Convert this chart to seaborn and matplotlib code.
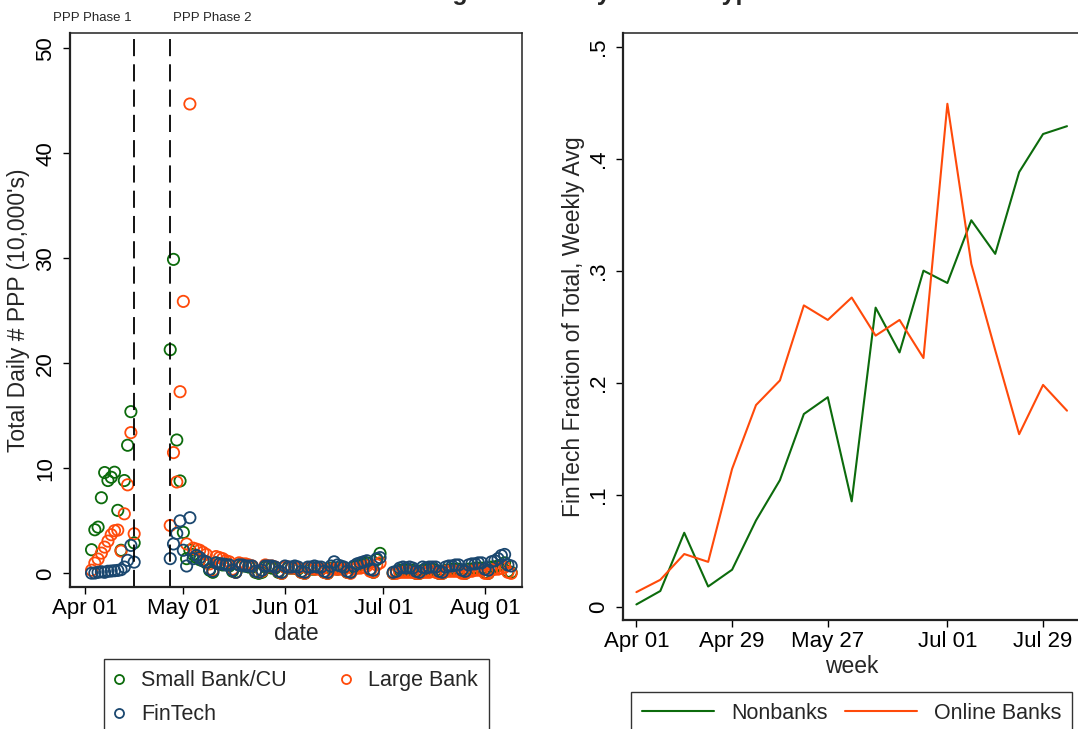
import numpy as np
import pandas as pd
import matplotlib
matplotlib.use("Agg")
import matplotlib.pyplot as plt
import matplotlib.dates as mdates
from matplotlib.lines import Line2D
import seaborn as sns

# ---------------------------------------------------------------- data
start = pd.Timestamp("2020-04-01")

# observation days, counted from 1 Apr 2020
obs_days = list(range(2, 16)) + list(range(26, 91)) + list(range(94, 131))

# daily number of PPP loans, in 10,000's
small_bank = [
    2.25, 4.15, 4.4, 7.2, 9.6, 8.84, 9.15, 9.63, 6.0, 2.2, 8.84, 12.2, 15.4, 2.9,
    21.3, 29.9, 12.7, 8.8, 3.9, 1.4, 2.2,
    1.8, 1.5, 1.3, 1.2, 1.0, 0.3, 0.1,
    1.0, 0.9, 0.8, 0.9, 0.7, 0.2, 0.1,
    0.8, 0.7, 0.7, 0.6, 0.6, 0.1, 0.0,
    0.1, 0.6, 0.6, 0.5, 0.5, 0.1, 0.0,
    0.6, 0.5, 0.5, 0.5, 0.4, 0.1, 0.0,
    0.5, 0.4, 0.4, 0.5, 0.4, 0.1, 0.0,
    0.5, 0.5, 0.4, 0.5, 0.5, 0.1, 0.1,
    0.6, 0.7, 0.8, 0.9, 1.0, 0.3, 0.1,
    1.3, 1.9,
    0.0, 0.1,
    0.3, 0.3, 0.3, 0.3, 0.3, 0.0, 0.0,
    0.3, 0.3, 0.3, 0.4, 0.3, 0.0, 0.0,
    0.3, 0.3, 0.4, 0.4, 0.4, 0.1, 0.0,
    0.4, 0.4, 0.5, 0.5, 0.5, 0.1, 0.0,
    0.6, 0.6, 0.7, 0.8, 1.0, 0.2, 0.1,
]
large_bank = [
    0.3, 0.98, 1.36, 1.93, 2.5, 3.07, 3.68, 4.06, 4.12, 2.12, 5.67, 8.43, 13.4, 3.77,
    4.56, 11.5, 8.7, 17.3, 25.9, 2.8, 44.7,
    2.4, 2.3, 2.2, 2.0, 1.8, 0.9, 0.3,
    1.6, 1.5, 1.4, 1.2, 1.1, 0.4, 0.1,
    1.0, 0.9, 0.9, 0.8, 0.7, 0.2, 0.1,
    0.2, 0.8, 0.7, 0.7, 0.6, 0.2, 0.0,
    0.6, 0.6, 0.5, 0.5, 0.5, 0.1, 0.0,
    0.5, 0.5, 0.4, 0.4, 0.4, 0.1, 0.0,
    0.4, 0.4, 0.4, 0.4, 0.4, 0.1, 0.0,
    0.4, 0.5, 0.5, 0.6, 0.7, 0.2, 0.1,
    0.8, 1.0,
    0.0, 0.0,
    0.1, 0.1, 0.1, 0.1, 0.1, 0.0, 0.0,
    0.1, 0.1, 0.1, 0.2, 0.1, 0.0, 0.0,
    0.2, 0.2, 0.2, 0.2, 0.2, 0.0, 0.0,
    0.2, 0.2, 0.3, 0.3, 0.3, 0.0, 0.0,
    0.3, 0.4, 0.4, 0.5, 0.6, 0.1, 0.0,
]
fintech = [
    0.02, 0.03, 0.1, 0.15, 0.1, 0.2, 0.22, 0.25, 0.28, 0.35, 0.6, 1.24, 2.66, 1.07,
    1.4, 2.8, 3.8, 5.0, 2.2, 0.7, 5.3,
    1.4, 1.7, 1.5, 1.2, 1.1, 0.4, 0.2,
    1.0, 0.9, 0.9, 0.8, 0.8, 0.3, 0.1,
    0.8, 0.8, 0.7, 0.7, 0.7, 0.2, 0.1,
    0.3, 0.7, 0.7, 0.7, 0.6, 0.2, 0.1,
    0.7, 0.6, 0.6, 0.7, 0.6, 0.2, 0.1,
    0.6, 0.6, 0.7, 0.6, 0.6, 0.2, 0.1,
    0.7, 1.1, 0.8, 0.7, 0.6, 0.2, 0.1,
    0.7, 0.9, 1.0, 1.1, 1.2, 0.4, 0.3,
    1.4, 1.5,
    0.1, 0.2,
    0.5, 0.6, 0.5, 0.6, 0.5, 0.2, 0.1,
    0.6, 0.5, 0.6, 0.6, 0.6, 0.2, 0.1,
    0.6, 0.7, 0.7, 0.8, 0.8, 0.3, 0.2,
    0.8, 0.9, 0.9, 1.0, 1.0, 0.4, 0.3,
    1.1, 1.2, 1.4, 1.7, 1.8, 0.8, 0.7,
]

# weekly FinTech share of total lending
week_start = pd.date_range("2020-04-01", periods=19, freq="7D")
nonbanks = [0.002, 0.014, 0.066, 0.018, 0.033, 0.077, 0.113, 0.172, 0.187, 0.094,
            0.267, 0.227, 0.300, 0.289, 0.345, 0.315, 0.388, 0.422, 0.429]
online_banks = [0.013, 0.024, 0.047, 0.040, 0.123, 0.180, 0.202, 0.269, 0.256, 0.276,
                0.242, 0.256, 0.222, 0.449, 0.306, 0.229, 0.154, 0.198, 0.175]

phase_dates = [pd.Timestamp("2020-04-16"), pd.Timestamp("2020-04-27")]
phase_labels = ["PPP Phase 1", "PPP Phase 2"]

lender_names = ["Small Bank/CU", "Large Bank", "FinTech"]
share_names = ["Nonbanks", "Online Banks"]

left_ticks = ["2020-04-01", "2020-05-01", "2020-06-01", "2020-07-01", "2020-08-01"]
right_ticks = ["2020-04-01", "2020-04-29", "2020-05-27", "2020-07-01", "2020-07-29"]
right_tick_labels = ["0", ".1", ".2", ".3", ".4", ".5"]

# ---------------------------------------------------------------- tables
dates = [start + pd.Timedelta(days=d) for d in obs_days]
daily = pd.DataFrame({
    "date": dates * 3,
    "count": small_bank + large_bank + fintech,
    "lender": sum([[n] * len(dates) for n in lender_names], []),
})
weekly = pd.DataFrame({
    "week": list(week_start) * 2,
    "share": nonbanks + online_banks,
    "group": sum([[n] * len(week_start) for n in share_names], []),
})

GREEN = "#0c6b0c"
ORANGE = "#ff4a0a"
NAVY = "#1a476f"
lender_palette = dict(zip(lender_names, [GREEN, ORANGE, NAVY]))
share_palette = dict(zip(share_names, [GREEN, ORANGE]))

# ---------------------------------------------------------------- style
sns.set_style("ticks")
plt.rcParams["font.family"] = ["Liberation Sans", "DejaVu Sans"]
plt.rcParams["axes.linewidth"] = 1.1
plt.rcParams["xtick.major.size"] = 5
plt.rcParams["ytick.major.size"] = 5
plt.rcParams["xtick.major.width"] = 1.0
plt.rcParams["ytick.major.width"] = 1.0
plt.rcParams["xtick.color"] = "black"
plt.rcParams["ytick.color"] = "black"

TICK_FS = 16
LABEL_FS = 16.5
LEG_FS = 15.5
fig = plt.figure(figsize=(10.78, 7.29), dpi=100)
ax1 = fig.add_axes([70 / 1078, 1 - 587 / 729, 452 / 1078, 554 / 729])
ax2 = fig.add_axes([623 / 1078, 1 - 620 / 729, 458 / 1078, 587 / 729])

# ---------------------------------------------------------------- left: daily counts
sns.scatterplot(data=daily, x="date", y="count", hue="lender", palette=lender_palette,
                s=66, linewidth=1.3, legend=False, ax=ax1)
pts = ax1.collections[0]
pts.set_edgecolors(pts.get_facecolors())
pts.set_facecolors("none")

for d in phase_dates:
    ax1.axvline(d, color="black", lw=1.3, ls=(0, (9.5, 4.5)), zorder=1)
ax1.annotate(phase_labels[0], xy=(phase_dates[0], 1), xycoords=("data", "axes fraction"),
             xytext=(-1.5, 10.5), textcoords="offset points", ha="right", va="center",
             fontsize=9.5)
ax1.annotate(phase_labels[1], xy=(phase_dates[1], 1), xycoords=("data", "axes fraction"),
             xytext=(2, 10.5), textcoords="offset points", ha="left", va="center",
             fontsize=9.5)

ax1.set_xlim(start - pd.Timedelta(days=4.57), start + pd.Timedelta(days=133.3))
ax1.set_ylim(-1.3, 51.46)
ax1.set_yticks([0, 10, 20, 30, 40, 50])
ax1.set_xticks(pd.to_datetime(left_ticks))
ax1.xaxis.set_major_formatter(mdates.DateFormatter("%b %d"))
ax1.set_xlabel("date", fontsize=LABEL_FS, labelpad=2)
ax1.set_ylabel("Total Daily # PPP (10,000's)", fontsize=LABEL_FS, labelpad=4)

# ---------------------------------------------------------------- right: weekly shares
sns.lineplot(data=weekly, x="week", y="share", hue="group", palette=share_palette,
             linewidth=1.5, legend=False, ax=ax2)
ax2.set_xlim(start - pd.Timedelta(days=3.92), start + pd.Timedelta(days=130.1))
ax2.set_ylim(-0.0119, 0.5122)
ax2.set_yticks([0, 0.1, 0.2, 0.3, 0.4, 0.5])
ax2.set_yticklabels(right_tick_labels)
ax2.set_xticks(pd.to_datetime(right_ticks))
ax2.xaxis.set_major_formatter(mdates.DateFormatter("%b %d"))
ax2.set_xlabel("week", fontsize=LABEL_FS, labelpad=2)
ax2.set_ylabel("FinTech Fraction of Total, Weekly Avg", fontsize=LABEL_FS, labelpad=2)

for ax in (ax1, ax2):
    ax.tick_params(axis="both", labelsize=TICK_FS, pad=3)
    ax.tick_params(axis="y", labelrotation=90, pad=5)
    for lab in ax.get_yticklabels():
        lab.set_va("center")
    for side in ("top", "bottom", "left", "right"):
        ax.spines[side].set_visible(True)
        ax.spines[side].set_color("#222222")
    ax.spines["left"].set_linewidth(1.6)
    ax.spines["bottom"].set_linewidth(1.6)

# ---------------------------------------------------------------- legends
lender_handles = [Line2D([], [], ls="none", marker="o", ms=6.5, mfc="none", mec=c, mew=1.3)
                  for c in (GREEN, ORANGE, NAVY)]
order = [0, 2, 1]
leg1 = fig.legend([lender_handles[i] for i in order], [lender_names[i] for i in order],
                  loc="upper left", bbox_to_anchor=(104 / 1078, 1 - 659 / 729, 385 / 1078, 0),
                  mode="expand", ncol=2, fontsize=LEG_FS, frameon=True, fancybox=False,
                  edgecolor="#333333", framealpha=1, borderpad=0.52, labelspacing=0.6,
                  handlelength=0.35, handletextpad=0.85, borderaxespad=0)
leg1.get_frame().set_linewidth(1.0)

share_handles = [Line2D([], [], color=c, lw=1.5) for c in (GREEN, ORANGE)]
leg2 = fig.legend(share_handles, share_names, loc="upper left",
                  bbox_to_anchor=(631 / 1078, 1 - 692 / 729, 441 / 1078, 0),
                  mode="expand", ncol=2, fontsize=LEG_FS, frameon=True, fancybox=False,
                  edgecolor="#333333", framealpha=1, borderpad=0.5,
                  handlelength=3.35, handletextpad=0.79, borderaxespad=0)
leg2.get_frame().set_linewidth(1.0)

# figure title, set high above the panels
fig.text(0.5, 1.0, "PPP Lending Patterns by Lender Type", ha="center", va="baseline",
         fontsize=18, fontweight="bold")

fig.savefig("out.png", dpi=100)
